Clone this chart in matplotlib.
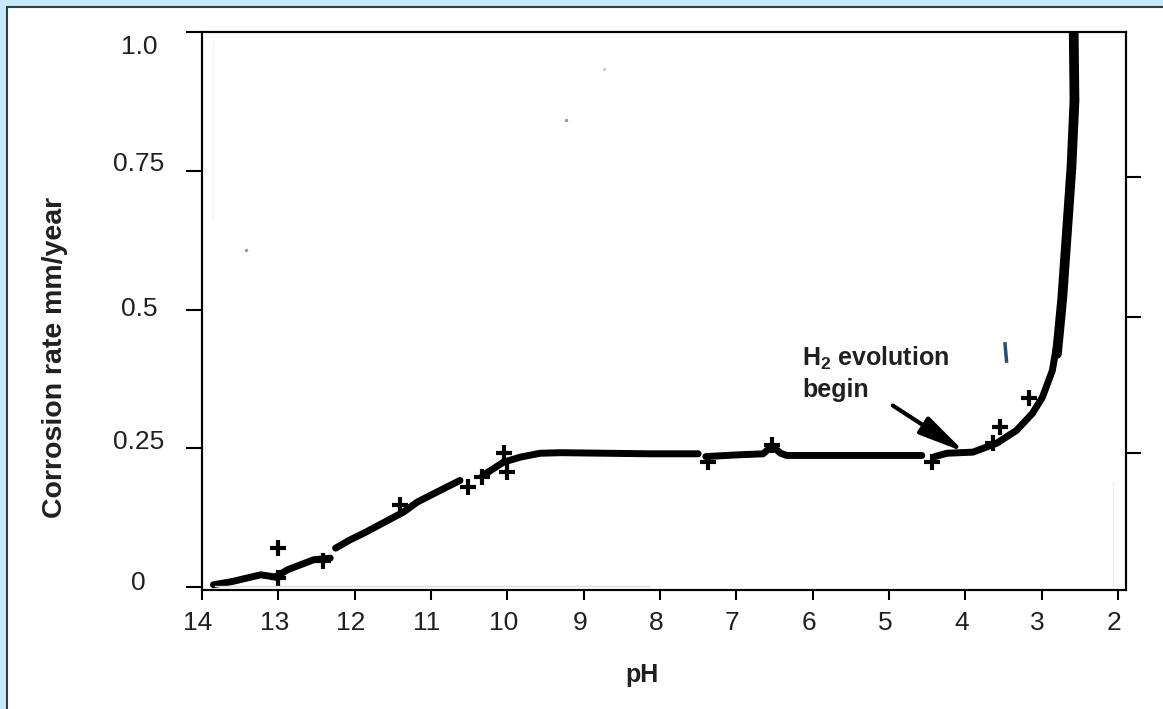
import numpy as np
import matplotlib.pyplot as plt
import matplotlib.transforms as mtransforms
from matplotlib.patches import Rectangle

plt.rcParams['font.family'] = ['Liberation Sans', 'DejaVu Sans']
plt.rcParams['mathtext.fontset'] = 'custom'
plt.rcParams['mathtext.bf'] = 'Liberation Sans:bold'
plt.rcParams['mathtext.rm'] = 'Liberation Sans:bold'

# corrosion curve, drawn in pieces like the scanned original
seg1_ph = [13.85, 13.6, 13.23, 13.04]
seg1_rate = [0.004, 0.010, 0.022, 0.018]
seg2_ph = [13.04, 12.88, 12.54, 12.32]
seg2_rate = [0.018, 0.031, 0.049, 0.052]
seg3_ph = [12.25, 12.06, 11.88, 11.36, 11.18, 10.88, 10.62]
seg3_rate = [0.070, 0.085, 0.097, 0.135, 0.153, 0.174, 0.192]
seg4_ph = [10.32, 10.05, 9.83, 9.57, 9.3, 8.13, 7.50]
seg4_rate = [0.201, 0.225, 0.234, 0.241, 0.242, 0.240, 0.240]
seg5_ph = [7.40, 7.0, 6.65, 6.53, 6.42, 6.34, 5.5, 4.57]
seg5_rate = [0.235, 0.238, 0.240, 0.254, 0.241, 0.237, 0.237, 0.237]
seg6_ph = [4.40, 4.24, 3.90, 3.59, 3.33, 3.12, 2.99, 2.86, 2.77]
seg6_rate = [0.235, 0.241, 0.243, 0.259, 0.282, 0.313, 0.342, 0.39, 0.462]
top_ph = [2.80, 2.77, 2.73, 2.67, 2.61, 2.57, 2.58]
top_rate = [0.42, 0.462, 0.52, 0.637, 0.755, 0.876, 1.0]

# measured points (+)
mk_ph = [13.01, 13.01, 12.41, 11.40, 10.51, 10.33, 10.05, 10.0, 7.37, 6.53, 4.43, 3.64, 3.55, 3.17]
mk_rate = [0.070, 0.016, 0.047, 0.147, 0.180, 0.198, 0.241, 0.207, 0.225, 0.255, 0.225, 0.259, 0.288, 0.340]

x_ticks = [14, 13, 12, 11, 10, 9, 8, 7, 6, 5, 4, 3, 2]
y_ticks = [0, 0.25, 0.5, 0.75, 1.0]
y_labels = ['0', '0.25', '0.5', '0.75', '1.0']
y_label_dy = [7, 9, 3, 9, -12]   # px shift of each label, as in the scan
right_ticks = [0.241, 0.487, 0.739]

fig = plt.figure(figsize=(11.63, 7.09), dpi=100)
fig.patch.set_facecolor('#c6eaf9')
fig.patches.append(Rectangle((7 / 1163, -0.5), 2, 1.5 - 7 / 709,
                             transform=fig.transFigure, facecolor='white',
                             edgecolor='#3a3a3a', lw=1.5, zorder=-5))

ax = fig.add_axes([202 / 1163, 1 - 590 / 709, 924 / 1163, 558 / 709])
ax.set_xlim(14, 1.895)
ax.set_ylim(-0.0054, 1.0)

for px, ry in [(seg1_ph, seg1_rate), (seg2_ph, seg2_rate), (seg3_ph, seg3_rate),
               (seg4_ph, seg4_rate), (seg5_ph, seg5_rate), (seg6_ph, seg6_rate)]:
    ax.plot(px, ry, color='black', lw=5, solid_capstyle='round', solid_joinstyle='round')
ax.plot(top_ph[:-1], top_rate[:-1], color='black', lw=7, solid_capstyle='round', solid_joinstyle='round')
ax.plot(top_ph[-2:], top_rate[-2:], color='black', lw=7, solid_capstyle='butt')
ax.plot(mk_ph, mk_rate, ls='none', marker='+', ms=12, mew=3, color='black')

# scan leftovers
ax.plot([13.83, 8.13], [0.002, 0.002], color='#dcdcdc', lw=1)
ax.plot([2.07, 2.07], [0.0, 0.19], color='#eeeeee', lw=1)
ax.plot([13.86, 13.86], [0.665, 0.984], color='#f2f2f2', lw=1)
ax.plot([13.43, 9.23], [0.608, 0.842], ls='none', marker='o', ms=2.5, color='#9a9a9a', mew=0)
ax.plot([8.73], [0.933], ls='none', marker='o', ms=2.5, color='#d0d0d0', mew=0)
ax.plot([3.48, 3.46], [0.438, 0.407], color='#2a4d69', lw=2.5)

ax.annotate('', xy=(4.01, 0.243), xytext=(4.95, 0.327),
            arrowprops=dict(arrowstyle='-|>,head_length=1.4,head_width=0.3',
                            mutation_scale=20, lw=3, color='black',
                            shrinkA=0, shrinkB=0))
ax.text(6.14, 0.399, r'$\mathbf{H_2}$ evolution', fontsize=18, fontweight='bold',
        color='#231f20', ha='left', va='baseline')
ax.text(6.14, 0.342, 'begin', fontsize=18, fontweight='bold',
        color='#231f20', ha='left', va='baseline')

for s in ax.spines.values():
    s.set_linewidth(1.5)
ax.set_xticks(x_ticks)
ax.set_xticklabels([str(v) for v in x_ticks])
ax.set_yticks(y_ticks)
ax.set_yticklabels(y_labels)
ax.tick_params(axis='x', direction='out', length=7, width=1.5, pad=8,
               labelsize=19, labelcolor='#231f20')
ax.tick_params(axis='y', direction='out', length=11.5, width=1.5, pad=34,
               labelsize=19, labelcolor='#231f20')
ax.yaxis.get_major_ticks()[0].tick1line.set_visible(False)
for lab, dy in zip(ax.get_yticklabels(), y_label_dy):
    lab.set_horizontalalignment('center')
    lab.set_transform(lab.get_transform() + mtransforms.ScaledTranslation(0, dy / 100, fig.dpi_scale_trans))
for lab in ax.get_xticklabels():
    lab.set_transform(lab.get_transform() + mtransforms.ScaledTranslation(-4 / 100, 0, fig.dpi_scale_trans))

ax2 = ax.twinx()
ax2.set_ylim(ax.get_ylim())
ax2.set_yticks(right_ticks)
ax2.tick_params(axis='y', direction='out', length=11, width=1.5, labelright=False)
for s in ax2.spines.values():
    s.set_linewidth(1.5)

fig.text(55 / 1163, 1 - 357.5 / 709, 'Corrosion rate mm/year', rotation=90,
         fontsize=20.5, fontweight='bold', color='#231f20', ha='center', va='center')
fig.text(642 / 1163, 1 - 682 / 709, 'pH', fontsize=18, fontweight='bold',
         color='#231f20', ha='center', va='baseline')

fig.savefig('out.png', dpi=100, facecolor=fig.get_facecolor())
